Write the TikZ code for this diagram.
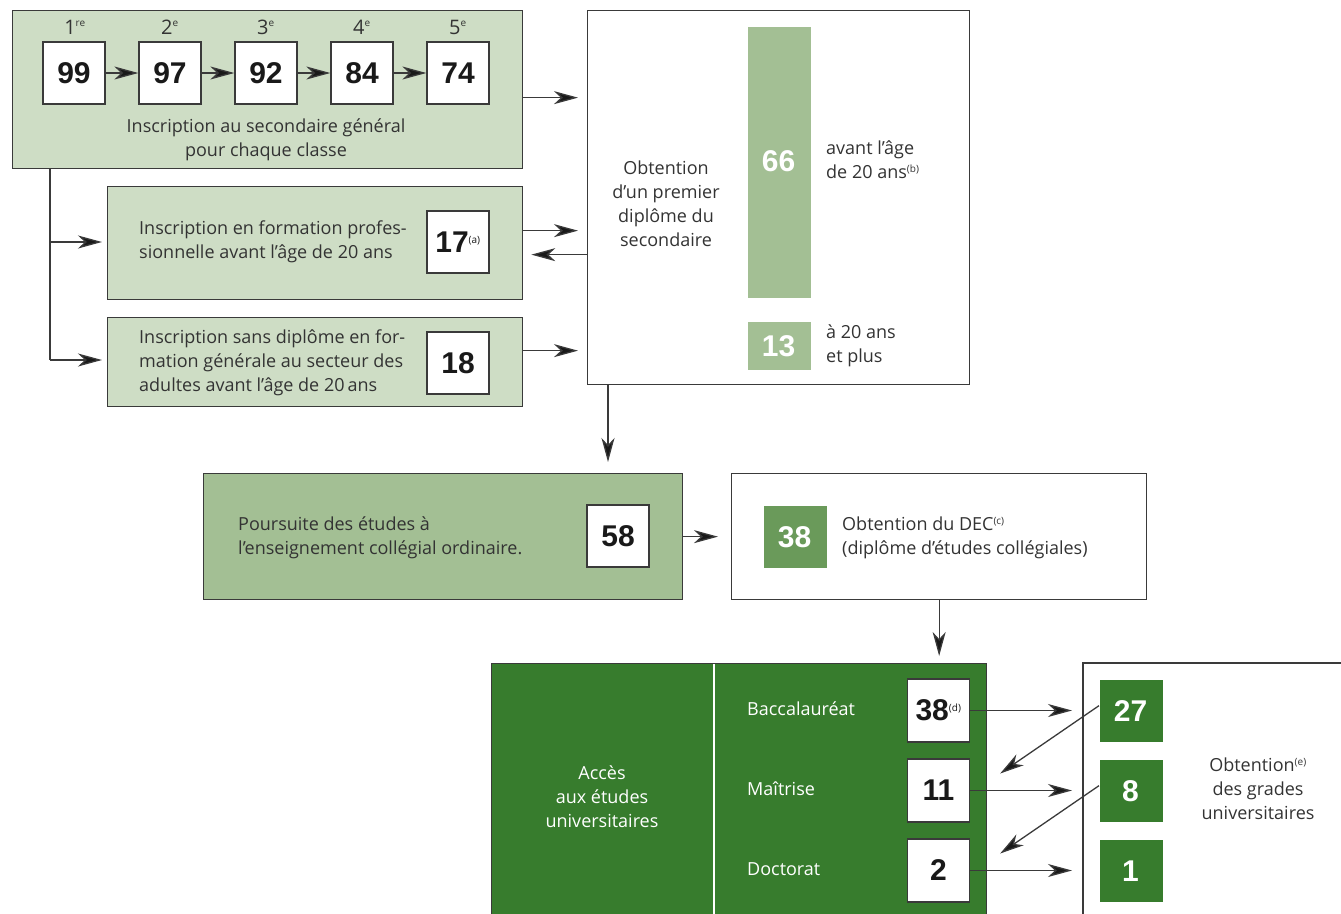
\documentclass[tikz,border=0pt]{standalone}
\usepackage{fontspec}
\setmainfont{Open Sans}
\newfontfamily\numfont{Liberation Sans}
\usetikzlibrary{arrows.meta}
\definecolor{lgreen}{HTML}{CEDDC5}
\definecolor{mgreen}{HTML}{A3BF94}
\definecolor{dgreen}{HTML}{377C2D}
\definecolor{decgreen}{HTML}{6A9A5A}
\definecolor{linegray}{HTML}{3A3A3A}
\definecolor{textgray}{HTML}{333333}
\newcommand{\fn}[1]{\textsuperscript{\normalfont\fontsize{10}{10}\selectfont #1}}
\begin{document}
\begin{tikzpicture}[x=1pt,y=-1pt,
  panel/.style={draw=linegray, line width=1.3pt, inner sep=0pt, anchor=north west},
  txt/.style={font=\fontsize{18}{24}\selectfont, text=textgray, inner sep=0pt},
  wtxt/.style={font=\fontsize{18}{24}\selectfont, text=white, inner sep=0pt},
  numbox/.style={draw=linegray, fill=white, line width=1.3pt, minimum width=62pt, minimum height=62pt, inner sep=0pt, text=black!90, font=\numfont\bfseries\fontsize{30}{30}\selectfont},
  gnum/.style={inner sep=0pt, text=white, font=\numfont\bfseries\fontsize{30}{30}\selectfont},
  cls/.style={font=\fontsize{20}{20}\selectfont, text=textgray, inner sep=0pt},
  plain/.style={draw=linegray, line width=1.3pt},
  conn/.style={draw=linegray, line width=1.3pt, -{Stealth[length=24pt,width=13pt,inset=7pt,fill=black!90]}}
]
\useasboundingbox (0,0) rectangle (1341,913);

% ---------- top panel ----------
\node[panel, fill=lgreen, minimum width=510pt, minimum height=158pt] (top) at (12,10) {};
\node[numbox] (n99) at (74,73) {99};
\node[numbox] (n97) at (170,73) {97};
\node[numbox] (n92) at (266,73) {92};
\node[numbox] (n84) at (362,73) {84};
\node[numbox] (n74) at (458,73) {74};
\node[cls] (c1) at (75,27) {1\fn{re}};
\node[cls] (c2) at (170,27) {2\fn{e}};
\node[cls] (c3) at (266,27) {3\fn{e}};
\node[cls] (c4) at (362,27) {4\fn{e}};
\node[cls] (c5) at (458,27) {5\fn{e}};
\draw[conn] (n99) -- (n97);
\draw[conn] (n97) -- (n92);
\draw[conn] (n92) -- (n84);
\draw[conn] (n84) -- (n74);
\node[txt, align=center] (toptxt) at (266,140) {Inscription au secondaire général\\pour chaque classe};

% ---------- second and third panels ----------
\node[panel, fill=lgreen, minimum width=415pt, minimum height=113pt] (box2) at (107,186) {};
\node[txt, align=left, anchor=west] (t2) at (139,242) {Inscription en formation profes-\\sionnelle avant l’âge de 20 ans};
\node[numbox] (n17) at (458,242) {17\fn{(a)}};
\node[panel, fill=lgreen, minimum width=415pt, minimum height=89pt] (box3) at (107,317) {};
\node[txt, align=left, anchor=west] (t3) at (139,363) {Inscription sans diplôme en for-\\mation générale au secteur des\\adultes avant l’âge de 20\,ans};
\node[numbox] (n18) at (458,363) {18};

% ---------- obtention panel ----------
\node[panel, fill=white, minimum width=382pt, minimum height=374pt] (obt) at (587,10) {};
\node[panel, draw=none, fill=mgreen, minimum width=63pt, minimum height=271pt] (bar66) at (747,26) {};
\node[gnum] (n66) at (778.5,161) {66};
\node[panel, draw=none, fill=mgreen, minimum width=63pt, minimum height=48pt] (bar13) at (747,321) {};
\node[gnum] (n13) at (778.5,346) {13};
\node[txt, align=center] (tobt) at (666,204) {Obtention\\d’un premier\\diplôme du\\secondaire};
\node[txt, align=left, anchor=west] (tav) at (826,160) {avant l’âge\\de 20 ans\fn{(b)}};
\node[txt, align=left, anchor=west] (t20) at (826,346) {à 20 ans\\et plus};

% connectors into obtention
\draw[conn, shorten >=9pt] ([yshift=-8pt]top.east) -- ([yshift=-8pt]top.east -| obt.west);
\draw[conn, shorten >=9pt] ([yshift=12.5pt]box2.east) -- ([yshift=12.5pt]box2.east -| obt.west);
\draw[conn, shorten >=8pt] ([yshift=-11.5pt]box2.east -| obt.west) -- ([yshift=-11.5pt]box2.east);
\draw[conn, shorten >=9pt] ([yshift=11.5pt]box3.east) -- ([yshift=11.5pt]box3.east -| obt.west);

% left spine
\coordinate (sp0) at ([xshift=38pt]top.south west);
\coordinate (b1) at (50,242);
\coordinate (b2) at (50,360);
\draw[plain] (sp0) -- (b2);
\draw[conn, shorten >=5pt] (b1) -- (b1 -| box2.west);
\draw[conn, shorten >=5pt] (b2) -- (b2 -| box3.west);

% ---------- poursuite / DEC ----------
\node[panel, fill=mgreen, minimum width=479pt, minimum height=126pt] (pours) at (203,473) {};
\node[txt, align=left, anchor=west] (tp) at (238,538) {Poursuite des études à\\l’enseignement collégial ordinaire.};
\node[numbox] (n58) at (618,536) {58};
\node[panel, fill=white, minimum width=415pt, minimum height=126pt] (dec) at (731,473) {};
\node[panel, draw=none, fill=decgreen, minimum width=63pt, minimum height=62pt] (g38) at (763,505) {};
\node[gnum] (n38) at (794.5,537) {38};
\node[txt, align=left, anchor=west] (tdec) at (842,538) {Obtention du DEC\fn{(c)}\\(diplôme d’études collégiales)};

\coordinate (o1) at ([xshift=21pt]obt.south west);
\draw[conn, shorten >=11pt] (o1) -- (o1 |- pours.north);
\draw[conn, shorten >=13pt] (pours.east) -- (dec.west);

% ---------- university ----------
\node[panel, fill=dgreen, minimum width=495pt, minimum height=262pt] (uni) at (491,663) {};
\coordinate (dv) at (714,664);
\draw[white, line width=1.5pt] (dv) -- (714,920);
\node[wtxt, align=center] (tacc) at (602,797) {Accès\\aux études\\universitaires};
\node[wtxt, anchor=west] (tbac) at (747,709) {Baccalauréat};
\node[wtxt, anchor=west] (tmai) at (747,789) {Maîtrise};
\node[wtxt, anchor=west] (tdoc) at (747,869) {Doctorat};
\node[numbox, minimum height=63pt] (u38) at (938.5,710.5) {38\fn{(d)}};
\node[numbox, minimum height=63pt] (u11) at (938.5,790.5) {11};
\node[numbox, minimum height=63pt] (u2) at (938.5,870.5) {2};

\draw[conn, shorten >=7pt] (dec.south) -- (dec.south |- uni.north);

% right panel (open to the right and bottom)
\coordinate (rb) at (1083,663);
\coordinate (rbr) at (1345,663);
\coordinate (rbb) at (1083,920);
\draw[plain] (rbr) -- (rb) -- (rbb);
\node[panel, draw=none, fill=dgreen, minimum width=63pt, minimum height=62pt] (g27) at (1099,679) {};
\node[gnum] (n27) at (1130.5,711) {27};
\node[panel, draw=none, fill=dgreen, minimum width=63pt, minimum height=62pt] (g8) at (1099,759) {};
\node[gnum] (n8) at (1130.5,791) {8};
\node[panel, draw=none, fill=dgreen, minimum width=63pt, minimum height=62pt] (g1) at (1099,839) {};
\node[gnum] (n1) at (1130.5,871) {1};
\node[txt, align=center] (tgr) at (1258,789) {Obtention\fn{(e)}\\des grades\\universitaires};

\draw[conn, shorten >=11pt] (u38.east) -- (u38.east -| rb);
\draw[conn, shorten >=11pt] (u11.east) -- (u11.east -| rb);
\draw[conn, shorten >=11pt] (u2.east) -- (u2.east -| rb);
\draw[conn] ([yshift=5pt]g27.west) -- ([xshift=30pt,yshift=17pt]u11.east);
\draw[conn] ([yshift=5pt]g8.west) -- ([xshift=30pt,yshift=17pt]u2.east);
\end{tikzpicture}
\end{document}
